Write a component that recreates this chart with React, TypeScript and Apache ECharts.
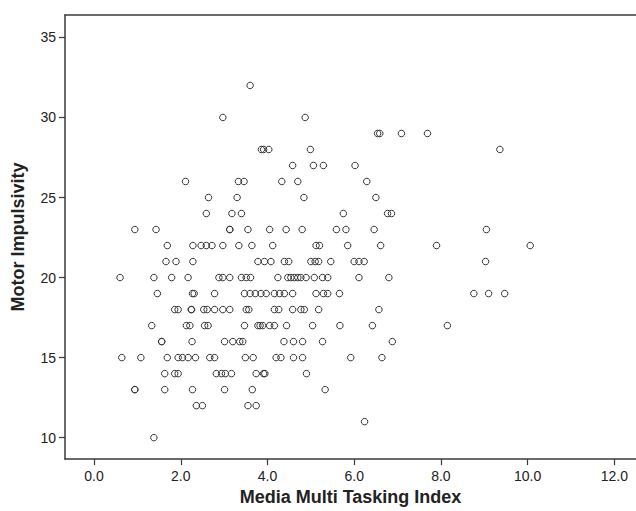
import React, { useEffect, useRef } from "react";
import * as echarts from "echarts";

// Motor Impulsivity score levels (y) and the Media Multi Tasking Index values (x) observed at each level
const impulsivityLevels = [32, 30, 29, 28, 27, 26, 25, 24, 23, 22, 21, 20, 19, 18, 17, 16, 15, 14, 13, 12, 11, 10];

const mmiAtLevel: number[][] = [
  [3.6],
  [2.97, 4.87],
  [6.54, 6.59, 7.09, 7.69],
  [3.86, 3.91, 4.03, 4.99, 9.36],
  [4.58, 5.06, 5.29, 6.02],
  [2.11, 3.33, 3.46, 4.33, 4.7, 6.29],
  [2.64, 3.3, 4.84, 6.5],
  [2.59, 3.18, 3.4, 5.75, 6.77, 6.86],
  [0.94, 1.43, 3.13, 3.13, 3.55, 4.05, 4.43, 4.8, 5.59, 5.81, 6.46, 9.05],
  [1.69, 2.28, 2.47, 2.59, 2.72, 2.97, 3.34, 3.64, 4.12, 5.12, 5.2, 5.85, 6.61, 7.9, 10.06],
  [1.66, 1.89, 2.28, 3.78, 3.93, 4.08, 4.39, 4.49, 5.0, 5.1, 5.18, 5.46, 6.0, 6.11, 6.23, 9.03],
  [0.6, 1.38, 1.79, 2.17, 2.88, 2.97, 3.13, 3.4, 3.51, 3.61, 4.24, 4.47, 4.54, 4.62, 4.7, 4.77, 4.89, 5.08, 5.27, 5.39, 6.11, 6.8],
  [1.46, 2.27, 2.31, 2.78, 3.47, 3.6, 3.72, 3.85, 3.97, 4.16, 4.28, 4.39, 4.58, 5.12, 5.29, 5.39, 5.66, 8.76, 9.1, 9.47],
  [1.86, 1.94, 2.24, 2.25, 2.53, 2.61, 2.78, 2.97, 3.13, 3.51, 3.57, 4.16, 4.26, 4.58, 4.77, 4.85, 5.18, 6.57],
  [1.33, 2.13, 2.21, 2.55, 2.63, 3.47, 3.78, 3.83, 3.89, 4.05, 4.16, 4.44, 5.04, 5.67, 6.42, 8.15],
  [1.56, 1.56, 2.26, 3.01, 3.2, 3.36, 3.43, 4.38, 4.6, 4.81, 5.27, 6.88],
  [0.64, 1.08, 1.69, 1.94, 2.04, 2.17, 2.34, 2.67, 2.78, 3.49, 3.67, 4.2, 4.31, 4.6, 4.81, 5.92, 6.64],
  [1.63, 1.86, 1.94, 2.82, 2.94, 3.03, 3.17, 3.74, 3.91, 3.94, 4.9],
  [0.94, 0.94, 1.63, 2.27, 3.01, 3.65, 5.33],
  [2.36, 2.5, 3.55, 3.74],
  [6.24],
  [1.38],
];

const xTicks = [0, 2, 4, 6, 8, 10, 12];
const yTicks = [10, 15, 20, 25, 30, 35];

const xName = "Media Multi Tasking Index";
const yName = "Motor Impulsivity";

export default function App() {
  const ref = useRef<HTMLDivElement>(null);

  useEffect(() => {
    if (!ref.current) return;
    const chart = echarts.init(ref.current, null, { renderer: "svg" });
    const points: number[][] = [];
    impulsivityLevels.forEach((lvl, i) => {
      mmiAtLevel[i].forEach((x) => points.push([x, lvl]));
    });
    const font = "Arial, 'Liberation Sans', sans-serif";
    const axisColor = "#3a3a3a";
    chart.setOption({
      animation: false,
      backgroundColor: "#ffffff",
      grid: { left: 65, top: 15, right: 0, bottom: 47, containLabel: false },
      xAxis: [
        {
          type: "value",
          min: -0.67,
          max: 12.5,
          axisLine: { show: true, onZero: false, lineStyle: { color: axisColor, width: 1.5 } },
          axisTick: { show: true, customValues: xTicks, length: 6, lineStyle: { color: axisColor, width: 1.2 } },
          axisLabel: {
            show: true,
            customValues: xTicks,
            formatter: (v: number) => v.toFixed(1),
            fontSize: 14,
            color: "#222",
            fontFamily: font,
            margin: 10,
          },
          splitLine: { show: false },
          name: xName,
          nameLocation: "middle",
          nameGap: 27,
          nameTextStyle: { fontSize: 18, fontWeight: "bold", color: "#222", fontFamily: font },
        },
        {
          type: "value",
          position: "top",
          min: -0.67,
          max: 12.5,
          axisLine: { show: true, onZero: false, lineStyle: { color: axisColor, width: 1.5 } },
          axisTick: { show: false },
          axisLabel: { show: false },
          splitLine: { show: false },
        },
      ],
      yAxis: {
        type: "value",
        min: 8.66,
        max: 36.4,
        axisLine: { show: true, onZero: false, lineStyle: { color: axisColor, width: 1.5 } },
        axisTick: { show: true, customValues: yTicks, length: 6, lineStyle: { color: axisColor, width: 1.2 } },
        axisLabel: {
          show: true,
          customValues: yTicks,
          fontSize: 14,
          color: "#222",
          fontFamily: font,
          margin: 9,
        },
        splitLine: { show: false },
        name: yName,
        nameLocation: "middle",
        nameGap: 38,
        nameTextStyle: { fontSize: 18, fontWeight: "bold", color: "#222", fontFamily: font },
      },
      series: [
        {
          type: "scatter",
          xAxisIndex: 0,
          data: points,
          symbol: "circle",
          symbolSize: 6.5,
          silent: true,
          itemStyle: { color: "rgba(255,255,255,0)", borderColor: "#333", borderWidth: 1, opacity: 1 },
        },
      ],
    });
    return () => chart.dispose();
  }, []);

  return (
    <div
      ref={ref}
      style={{ position: "absolute", left: 0, top: 0, width: 636, height: 511, background: "#fff" }}
    />
  );
}
